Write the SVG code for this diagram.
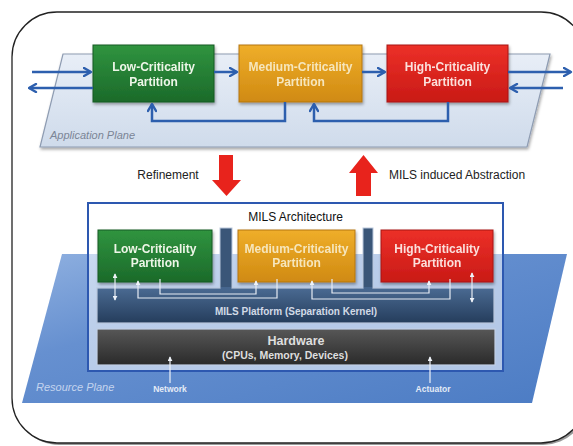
<svg xmlns="http://www.w3.org/2000/svg" width="573" height="446" viewBox="0 0 573 446">
  <defs>
    <linearGradient id="gGreen" x1="0" y1="0" x2="0" y2="1">
      <stop offset="0" stop-color="#30943f"/>
      <stop offset="1" stop-color="#1b6a2a"/>
    </linearGradient>
    <linearGradient id="gOrange" x1="0" y1="0" x2="0" y2="1">
      <stop offset="0" stop-color="#efae2a"/>
      <stop offset="1" stop-color="#d08a12"/>
    </linearGradient>
    <linearGradient id="gRed" x1="0" y1="0" x2="0" y2="1">
      <stop offset="0" stop-color="#ec3028"/>
      <stop offset="1" stop-color="#c91a16"/>
    </linearGradient>
    <linearGradient id="gPlatform" x1="0" y1="0" x2="0" y2="1">
      <stop offset="0" stop-color="#4a6a92"/>
      <stop offset="1" stop-color="#253d5c"/>
    </linearGradient>
    <linearGradient id="gHardware" x1="0" y1="0" x2="0" y2="1">
      <stop offset="0" stop-color="#575757"/>
      <stop offset="1" stop-color="#2a2a2a"/>
    </linearGradient>
    <linearGradient id="gAppPlane" x1="0" y1="0" x2="0" y2="1">
      <stop offset="0" stop-color="#e8eef7"/>
      <stop offset="1" stop-color="#cfdbeb"/>
    </linearGradient>
    <linearGradient id="gResPlane" x1="0" y1="0" x2="1" y2="1">
      <stop offset="0" stop-color="#8fb0e0"/>
      <stop offset="0.35" stop-color="#6690d0"/>
      <stop offset="1" stop-color="#4c7cc4"/>
    </linearGradient>
    <filter id="shadow" x="-10%" y="-10%" width="130%" height="140%">
      <feDropShadow dx="1" dy="2" stdDeviation="1.5" flood-color="#000" flood-opacity="0.35"/>
    </filter>
    <marker id="chev" viewBox="0 0 10 10" refX="8.5" refY="5" markerWidth="10" markerHeight="10" markerUnits="userSpaceOnUse" orient="auto">
      <path d="M1.5,1 L8.5,5 L1.5,9" fill="none" stroke="#2d5fae" stroke-width="2.4" stroke-linecap="round" stroke-linejoin="round"/>
    </marker>
    <marker id="tip" viewBox="0 0 6 6" refX="5" refY="3" markerWidth="5" markerHeight="5" markerUnits="userSpaceOnUse" orient="auto-start-reverse">
      <path d="M0,0 L6,3 L0,6 Z" fill="#eef2f8"/>
    </marker>
    <style>
      .lbl { font-family: "Liberation Sans", Arial, sans-serif; }
      .box-t { font-family: "Liberation Sans", Arial, sans-serif; font-size: 12px; font-weight: bold; text-anchor: middle; }
      .flow { fill: none; stroke: #2d5fae; stroke-width: 2.5; }
      .inner { fill: none; stroke: #e6ecf4; stroke-width: 1.2; }
      .io { fill: none; stroke: #eef2f8; stroke-width: 1.2; }
      .red-arrow { fill: #e8231c; }
    </style>
  </defs>

  <!-- outer rounded frame with soft shadow -->
  <rect x="14" y="14" width="574" height="431" rx="45" fill="#9a9a9a"/>
  <rect x="12" y="12" width="574" height="431" rx="45" fill="#ffffff" stroke="#222" stroke-width="1.3"/>

  <!-- application plane -->
  <g id="application-plane">
    <polygon points="63,54 550,54 527,147 40,147" fill="url(#gAppPlane)" stroke="#8e9cb2" stroke-width="1.2" filter="url(#shadow)"/>
    <text class="lbl" x="50" y="139" font-size="11" font-style="italic" fill="#7b8596">Application Plane</text>
  </g>

  <!-- resource plane -->
  <g id="resource-plane">
    <polygon points="62,254 567,254 532,403 22,403" fill="url(#gResPlane)"/>
    <text class="lbl" x="36" y="391" font-size="11" font-style="italic" fill="#c4d4ee">Resource Plane</text>
  </g>

  <!-- application-level partitions -->
  <g id="app-low" filter="url(#shadow)">
    <rect x="93" y="45" width="121" height="57" fill="url(#gGreen)" stroke="#175a24" stroke-width="1"/>
    <text class="box-t" x="153.5" y="71" fill="#eef6e8">Low-Criticality</text>
    <text class="box-t" x="153.5" y="86" fill="#eef6e8">Partition</text>
  </g>
  <g id="app-medium" filter="url(#shadow)">
    <rect x="239" y="45" width="123" height="57" fill="url(#gOrange)" stroke="#b5770e" stroke-width="1"/>
    <text class="box-t" x="300.5" y="71" fill="#f6e6bc">Medium-Criticality</text>
    <text class="box-t" x="300.5" y="86" fill="#f6e6bc">Partition</text>
  </g>
  <g id="app-high" filter="url(#shadow)">
    <rect x="387" y="45" width="121" height="57" fill="url(#gRed)" stroke="#a81412" stroke-width="1"/>
    <text class="box-t" x="447.5" y="71" fill="#fbe0dc">High-Criticality</text>
    <text class="box-t" x="447.5" y="86" fill="#fbe0dc">Partition</text>
  </g>

  <!-- application-level flows -->
  <g id="app-connectors">
    <line class="flow" x1="32" y1="72" x2="91" y2="72" marker-end="url(#chev)"/>
    <line class="flow" x1="93" y1="88" x2="29" y2="88" marker-end="url(#chev)"/>
    <line class="flow" x1="214" y1="72" x2="237" y2="72" marker-end="url(#chev)"/>
    <line class="flow" x1="362" y1="72" x2="385" y2="72" marker-end="url(#chev)"/>
    <line class="flow" x1="508" y1="72" x2="571" y2="72" marker-end="url(#chev)"/>
    <line class="flow" x1="563" y1="88" x2="510" y2="88" marker-end="url(#chev)"/>
    <path class="flow" d="M285,102 V121 H152 V104" marker-end="url(#chev)"/>
    <path class="flow" d="M448,102 V121 H314 V104" marker-end="url(#chev)"/>
  </g>

  <!-- refinement / abstraction -->
  <g id="refinement">
    <path class="red-arrow" d="M219,155 H233 V180 H241 L226.5,196 L212,180 H219 Z"/>
    <text class="lbl" x="168" y="179" font-size="12" fill="#222" text-anchor="middle">Refinement</text>
  </g>
  <g id="abstraction">
    <path class="red-arrow" d="M363.5,155 L378,173 H371 V196 H356 V173 H349 Z"/>
    <text class="lbl" x="389" y="179" font-size="12" fill="#222">MILS induced Abstraction</text>
  </g>

  <!-- MILS architecture container -->
  <g id="mils-architecture">
    <rect x="88" y="203" width="415" height="168" fill="#ffffff" fill-opacity="0.55" stroke="#2d58b0" stroke-width="2"/>
    <text class="lbl" x="295.5" y="221" font-size="12" fill="#111" text-anchor="middle">MILS Architecture</text>
  </g>

  <!-- separation kernel with pillars -->
  <g id="mils-platform">
    <rect x="220" y="228" width="12" height="62" fill="#3a5678" stroke="#b9c7dc" stroke-width="1"/>
    <rect x="363" y="228" width="10" height="62" fill="#3a5678" stroke="#b9c7dc" stroke-width="1"/>
    <rect x="97" y="288" width="397" height="35" fill="url(#gPlatform)" stroke="#b9c7dc" stroke-width="1.2"/>
    <rect x="220.6" y="287" width="10.8" height="3" fill="#46668e"/>
    <rect x="363.6" y="287" width="8.8" height="3" fill="#46668e"/>
    <text class="lbl" x="296" y="315" font-size="10" font-weight="bold" fill="#d2dae6" text-anchor="middle">MILS Platform (Separation Kernel)</text>
  </g>

  <g id="hardware">
    <rect x="97" y="329" width="398" height="36" fill="url(#gHardware)" stroke="#c2cfe4" stroke-width="1.2"/>
    <text class="lbl" x="296" y="345" font-size="12.5" font-weight="bold" fill="#dedede" text-anchor="middle">Hardware</text>
    <text class="lbl" x="285" y="359" font-size="10.5" font-weight="bold" fill="#dedede" text-anchor="middle">(CPUs, Memory, Devices)</text>
  </g>

  <!-- partitions hosted on the kernel -->
  <g id="mils-low" filter="url(#shadow)">
    <rect x="98" y="230" width="114" height="52" fill="url(#gGreen)" stroke="#175a24" stroke-width="1"/>
    <text class="box-t" x="155" y="253" fill="#eef6e8">Low-Criticality</text>
    <text class="box-t" x="155" y="267" fill="#eef6e8">Partition</text>
  </g>
  <g id="mils-medium" filter="url(#shadow)">
    <rect x="238" y="230" width="117" height="52" fill="url(#gOrange)" stroke="#b5770e" stroke-width="1"/>
    <text class="box-t" x="296.5" y="253" fill="#f6e6bc">Medium-Criticality</text>
    <text class="box-t" x="296.5" y="267" fill="#f6e6bc">Partition</text>
  </g>
  <g id="mils-high" filter="url(#shadow)">
    <rect x="381" y="230" width="112" height="52" fill="url(#gRed)" stroke="#a81412" stroke-width="1"/>
    <text class="box-t" x="437" y="253" fill="#fbe0dc">High-Criticality</text>
    <text class="box-t" x="437" y="267" fill="#fbe0dc">Partition</text>
  </g>

  <!-- kernel-mediated channels and device links -->
  <g id="kernel-connectors">
    <line class="inner" x1="115" y1="274" x2="115" y2="300" marker-start="url(#tip)" marker-end="url(#tip)"/>
    <line class="inner" x1="472" y1="273" x2="472" y2="302" marker-start="url(#tip)" marker-end="url(#tip)"/>
    <path class="inner" d="M160,279 V294 H256 V281" marker-end="url(#tip)"/>
    <path class="inner" d="M277,279 V298 H138 V281" marker-end="url(#tip)"/>
    <path class="inner" d="M332,279 V293 H429 V281" marker-end="url(#tip)"/>
    <path class="inner" d="M450,279 V299 H312 V281" marker-end="url(#tip)"/>
    <line class="io" x1="170" y1="383" x2="170" y2="357" marker-end="url(#tip)"/>
    <line class="io" x1="430" y1="383" x2="430" y2="357" marker-end="url(#tip)"/>
  </g>

  <g id="io-labels">
    <text class="lbl" x="170" y="392" font-size="8.5" font-weight="bold" fill="#e4ebf6" text-anchor="middle">Network</text>
    <text class="lbl" x="433" y="392" font-size="8.5" font-weight="bold" fill="#e4ebf6" text-anchor="middle">Actuator</text>
  </g>
</svg>
